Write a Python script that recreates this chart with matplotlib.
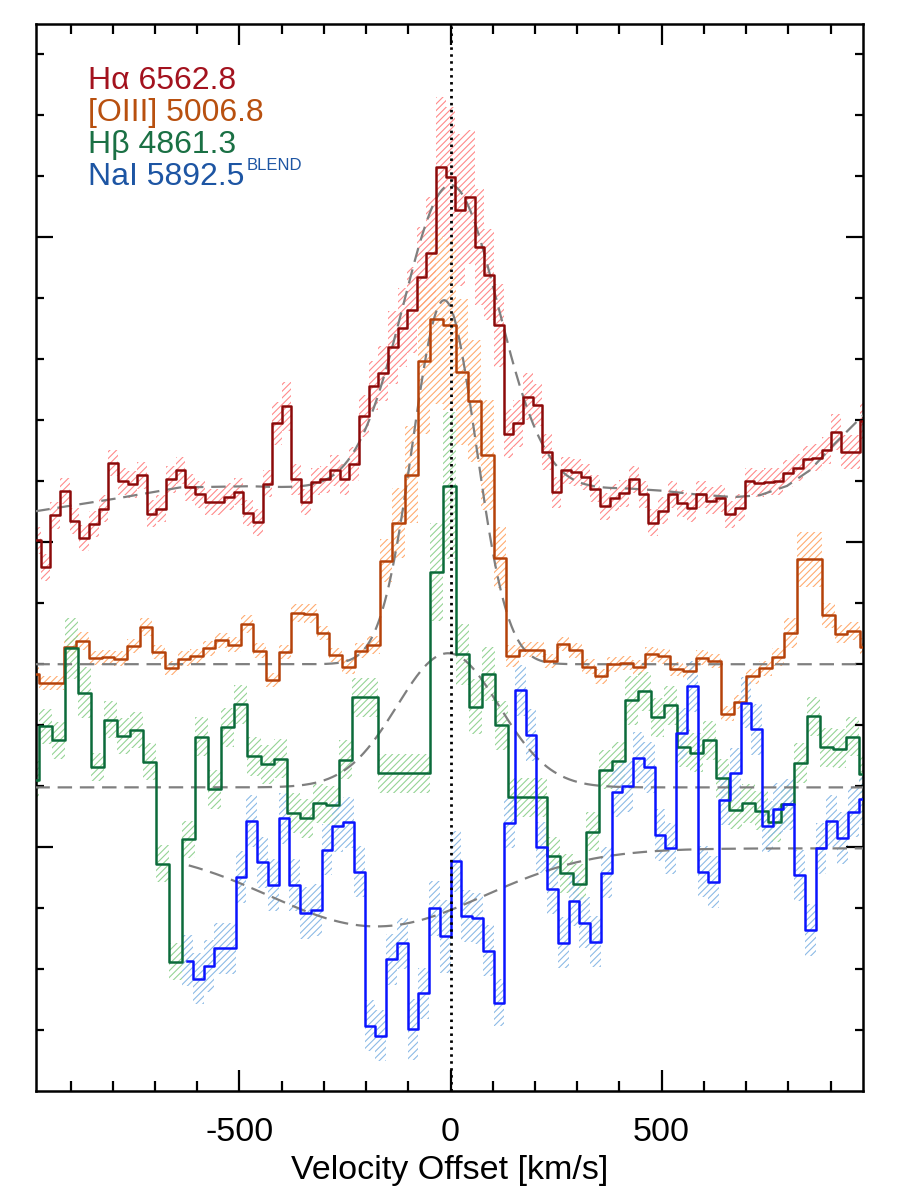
import numpy as np
import matplotlib
matplotlib.use("Agg")
import matplotlib.pyplot as plt
from matplotlib.ticker import MultipleLocator

plt.rcParams['font.family'] = ['Liberation Sans', 'DejaVu Sans']
plt.rcParams['axes.unicode_minus'] = False
plt.rcParams['hatch.linewidth'] = 0.8

# velocity grids: first bin centre and bin width [km/s] (0.5 A pixels)
ha_v0, ha_dv = -982.1, 22.84
oiii_v0, oiii_dv = -991.0, 29.94
hb_v0, hb_dv = -989.9, 30.84
nai_v0, nai_dv = -623.3, 25.44

# fluxes (arbitrary offset units) and 1-sigma errors
ha_flux = [9.03, 8.59, 9.44, 9.84, 9.35, 9.07, 9.30, 9.55, 10.30, 10.00,
           9.95, 10.10, 9.47, 9.55, 10.03, 10.18, 9.90, 9.79, 9.66, 9.66,
           9.75, 9.83, 9.48, 9.33, 9.96, 10.95, 11.23, 10.03, 9.66, 9.99,
           10.03, 10.18, 10.03, 10.29, 11.07, 11.57, 11.77, 12.20, 12.52, 12.81,
           13.35, 13.74, 15.15, 14.99, 14.45, 14.66, 13.84, 13.39, 12.56, 10.78,
           10.95, 11.39, 11.25, 10.48, 9.82, 10.18, 10.15, 10.07, 9.88, 9.59,
           9.73, 9.80, 10.03, 9.79, 9.32, 9.52, 9.79, 9.64, 9.56, 9.79,
           9.68, 9.72, 9.46, 9.57, 10.00, 9.97, 9.99, 10.00, 10.13, 10.22,
           10.36, 10.39, 10.51, 10.81, 10.48, 10.48, 10.99]
ha_err = [0.22, 0.22, 0.22, 0.22, 0.22, 0.22, 0.22, 0.22, 0.22, 0.22,
          0.22, 0.22, 0.22, 0.22, 0.22, 0.22, 0.22, 0.22, 0.22, 0.22,
          0.22, 0.22, 0.22, 0.22, 0.22, 0.35, 0.40, 0.25, 0.22, 0.22,
          0.22, 0.25, 0.25, 0.28, 0.35, 0.40, 0.45, 0.60, 0.65, 0.70,
          0.82, 0.92, 1.15, 1.15, 1.25, 1.10, 0.95, 0.75, 0.68, 0.40,
          0.38, 0.38, 0.35, 0.30, 0.25, 0.22, 0.22, 0.22, 0.22, 0.22,
          0.22, 0.22, 0.22, 0.22, 0.22, 0.22, 0.22, 0.22, 0.22, 0.22,
          0.22, 0.22, 0.22, 0.22, 0.22, 0.22, 0.22, 0.22, 0.22, 0.22,
          0.22, 0.22, 0.22, 0.30, 0.28, 0.28, 0.30]

oiii_flux = [6.84, 6.69, 6.69, 7.28, 7.38, 7.10, 7.12, 7.09, 7.30, 7.61,
             7.20, 6.94, 7.09, 7.13, 7.26, 7.39, 7.32, 7.66, 7.22, 6.74,
             7.20, 7.84, 7.83, 7.51, 7.15, 6.96, 7.22, 7.31, 8.70, 9.32,
             10.11, 11.98, 12.67, 12.57, 11.79, 11.32, 10.43, 8.75, 7.13, 7.24,
             7.24, 7.05, 7.33, 7.23, 6.96, 6.80, 7.00, 7.02, 6.95, 7.16,
             7.13, 6.92, 6.89, 7.11, 7.05, 6.19, 6.38, 6.80, 6.93, 7.12,
             7.51, 8.72, 8.72, 7.80, 7.49, 7.54, 7.28]
oiii_err = [0.12, 0.12, 0.12, 0.15, 0.15, 0.12, 0.12, 0.12, 0.12, 0.15,
            0.12, 0.12, 0.12, 0.12, 0.12, 0.12, 0.12, 0.15, 0.12, 0.12,
            0.12, 0.15, 0.15, 0.12, 0.12, 0.12, 0.12, 0.15, 0.35, 0.57,
            0.80, 1.20, 1.40, 1.40, 1.20, 1.00, 0.90, 0.50, 0.18, 0.12,
            0.12, 0.12, 0.12, 0.12, 0.12, 0.12, 0.12, 0.12, 0.12, 0.12,
            0.12, 0.12, 0.12, 0.12, 0.12, 0.12, 0.12, 0.12, 0.12, 0.15,
            0.25, 0.45, 0.45, 0.20, 0.15, 0.15, 0.15]

hb_flux = [5.10, 5.98, 5.75, 7.26, 6.53, 5.32, 6.09, 5.82, 5.92, 5.40,
           3.73, 2.12, 4.13, 5.81, 4.95, 5.97, 6.34, 5.49, 5.36, 5.45,
           4.56, 4.47, 4.72, 4.69, 5.43, 6.46, 6.46, 5.21, 5.21, 5.21,
           5.21, 8.51, 9.93, 7.16, 6.30, 6.84, 6.00, 4.82, 4.82, 4.82,
           3.85, 3.57, 3.40, 4.25, 5.27, 5.41, 6.41, 6.56, 6.13, 6.33,
           5.64, 5.55, 5.75, 5.13, 4.61, 4.72, 4.60, 4.41, 4.70, 5.38,
           6.15, 5.64, 5.61, 5.81, 5.20]
hb_err = [0.32, 0.29, 0.30, 0.50, 0.42, 0.23, 0.30, 0.30, 0.30, 0.30,
          0.30, 0.30, 0.30, 0.32, 0.32, 0.32, 0.32, 0.32, 0.32, 0.32,
          0.32, 0.32, 0.32, 0.32, 0.32, 0.32, 0.32, 0.32, 0.32, 0.32,
          0.32, 0.80, 1.20, 0.50, 0.45, 0.45, 0.40, 0.32, 0.32, 0.32,
          0.32, 0.32, 0.32, 0.32, 0.32, 0.32, 0.40, 0.32, 0.32, 0.32,
          0.32, 0.32, 0.32, 0.32, 0.32, 0.32, 0.32, 0.32, 0.32, 0.32,
          0.32, 0.32, 0.32, 0.32, 0.32]

nai_flux = [2.14, 1.84, 2.05, 2.34, 2.34, 3.51, 4.43, 3.75, 3.38, 4.47,
            3.38, 2.92, 2.97, 3.96, 4.34, 4.41, 3.60, 1.07, 0.91, 2.16,
            2.42, 1.01, 1.60, 3.00, 2.54, 3.77, 2.87, 2.83, 2.30, 1.45,
            4.40, 6.57, 5.84, 4.00, 3.32, 2.43, 3.12, 2.76, 2.45, 3.58,
            4.91, 5.00, 5.47, 5.31, 4.20, 3.98, 5.87, 6.64, 3.60, 3.43,
            4.78, 5.21, 6.37, 5.93, 4.34, 4.63, 4.70, 3.54, 2.64, 3.98,
            4.43, 4.15, 4.58, 4.79]
nai_err = [0.42, 0.42, 0.42, 0.42, 0.42, 0.42, 0.42, 0.42, 0.42, 0.42,
           0.42, 0.42, 0.42, 0.42, 0.42, 0.42, 0.42, 0.42, 0.42, 0.42,
           0.42, 0.50, 0.42, 0.45, 0.60, 0.50, 0.42, 0.42, 0.42, 0.38,
           0.42, 0.42, 0.42, 0.42, 0.42, 0.42, 0.42, 0.42, 0.42, 0.42,
           0.42, 0.42, 0.42, 0.42, 0.42, 0.42, 0.42, 0.42, 0.42, 0.42,
           0.42, 0.42, 0.42, 0.42, 0.42, 0.42, 0.42, 0.42, 0.42, 0.42,
           0.42, 0.42, 0.42, 0.42]

# gaussian fits: continuum, amplitude, centre, sigma [km/s]
ha_cont_v = [-982, -807, -641, -482, -286, 260, 338, 417, 495, 574, 668, 732, 796, 851, 906, 977]
ha_cont_y = [9.51, 9.70, 9.90, 9.92, 9.87, 9.85, 9.87, 9.88, 9.85, 9.79, 9.74, 9.77, 9.92, 10.18, 10.59, 11.08]
ha_fit = (5.0, 0.0, 112.0)
oiii_fit = (7.0, 5.97, -15.0, 75.0)
hb_fit = (4.98, 2.2, -6.0, 121.0)
nai_fit = (3.98, -1.28, -175.0, 255.0)

labels = ['H\u03b1 6562.8', '[OIII] 5006.8', 'H\u03b2 4861.3', 'NaI 5892.5']
line_cols = ['#8c0a0a', '#b5420a', '#0b6b3a', '#0a14ff']
text_cols = ['#a3121e', '#b8500f', '#1a7044', '#1d55a3']
hatch_cols = ['#ff8a8a', '#ffab70', '#95d495', '#8dbbe6']


def gauss(v, amp, cen, sig):
    return amp * np.exp(-0.5 * ((v - cen) / sig) ** 2)


def draw_spec(ax, v0, dv, flux, err, lcol, hcol):
    flux = np.array(flux)
    err = np.array(err)
    v = v0 + dv * np.arange(len(flux))
    edges = np.append(v - dv / 2, v[-1] + dv / 2)
    xs = np.repeat(edges, 2)[1:-1]
    ax.fill_between(xs, np.repeat(flux - err, 2), np.repeat(flux + err, 2),
                    facecolor='none', edgecolor=hcol, hatch='/////', linewidth=0, zorder=1)
    ax.step(v, flux, where='mid', color=lcol, lw=1.8, zorder=4)


fig = plt.figure(figsize=(9, 12), dpi=100)
ax = fig.add_axes([0.04, 0.0908, 0.9189, 0.8892])

specs = [(ha_v0, ha_dv, ha_flux, ha_err), (oiii_v0, oiii_dv, oiii_flux, oiii_err),
         (hb_v0, hb_dv, hb_flux, hb_err), (nai_v0, nai_dv, nai_flux, nai_err)]
for i, s in enumerate(specs):
    draw_spec(ax, s[0], s[1], s[2], s[3], line_cols[i], hatch_cols[i])

# model curves
vm = np.linspace(-990, 990, 1200)
dash = dict(color='#7f7f7f', lw=1.6, dashes=(6.5, 3.5), zorder=3)
ax.plot(vm, np.interp(vm, ha_cont_v, ha_cont_y) + gauss(vm, *ha_fit), **dash)
ax.plot(vm, oiii_fit[0] + gauss(vm, *oiii_fit[1:]), **dash)
ax.plot(vm, hb_fit[0] + gauss(vm, *hb_fit[1:]), **dash)
vn = vm[vm >= nai_v0 + 2]
ax.plot(vn, nai_fit[0] + gauss(vn, *nai_fit[1:]), **dash)

ax.axvline(0, color='k', lw=2.0, ls=(0, (0.9, 1.6)), zorder=5)

ax.set_xlim(-982, 977)
ax.set_ylim(0, 17.5)
ax.xaxis.set_major_locator(MultipleLocator(500))
ax.xaxis.set_minor_locator(MultipleLocator(100))
ax.set_yticks([4, 9, 14])
ax.set_yticks(np.arange(1, 18), minor=True)
ax.tick_params(which='both', direction='in', top=True, right=True, width=1.6, labelleft=False)
ax.tick_params(axis='x', which='major', length=15, labelsize=24.5, pad=19)
ax.tick_params(axis='x', which='minor', length=7.5)
ax.tick_params(axis='y', which='major', length=12)
ax.tick_params(axis='y', which='minor', length=6)
for sp in ax.spines.values():
    sp.set_linewidth(1.8)
ax.set_xlabel('Velocity Offset [km/s]', fontsize=24.5, labelpad=5)

# legend text
txts = []
for i, lab in enumerate(labels):
    txts.append(fig.text(88 / 900, 1 - (89 + 32 * i) / 1200, lab, color=text_cols[i],
                         fontsize=23, va='baseline', ha='left'))
fig.canvas.draw()
bb = txts[3].get_window_extent()
fig.text((bb.x1 + 2) / 900, 1 - 170 / 1200, 'BLEND', color=text_cols[3], fontsize=12,
         va='baseline', ha='left')

fig.savefig('out.png', dpi=100)
